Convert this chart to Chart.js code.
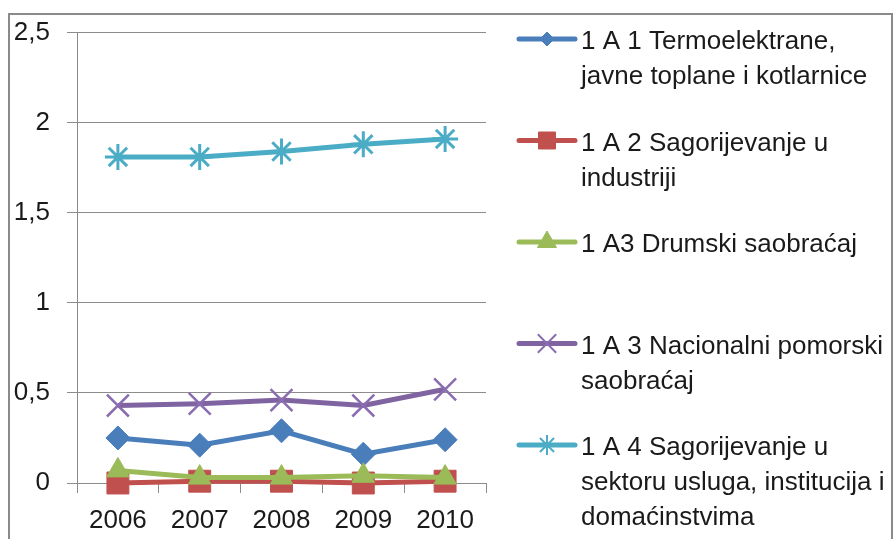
<!DOCTYPE html>
<html>
<head>
  <title>Emisije 2006-2010</title>
  <script src="https://cdn.jsdelivr.net/npm/chart.js"></script>
  <style>
    body { margin: 0; background: #fff; overflow: hidden; }
    .wrap { position: relative; width: 893px; height: 539px; }
    canvas { position: absolute; left: 0; top: 0; }
    .frame { position: absolute; left: 8px; top: 13px; width: 881px; height: 600px; border: 2px solid #8a8a8a; pointer-events: none; }
  </style>
</head>
<body>
  <div class="wrap">
    <canvas id="chart" width="893" height="539"></canvas>
    <div class="frame"></div>
  </div>

  <script>
    // podaci
    const years = ['2006', '2007', '2008', '2009', '2010'];
    const termo = [0.25, 0.21, 0.29, 0.16, 0.24];
    const industrija = [0.00, 0.01, 0.01, 0.00, 0.01];
    const drumski = [0.07, 0.03, 0.03, 0.04, 0.03];
    const pomorski = [0.43, 0.44, 0.46, 0.43, 0.52];
    const usluge = [1.81, 1.81, 1.84, 1.88, 1.91];
    const seriesLabels = [
      ['1 A 1 Termoelektrane,', 'javne toplane i kotlarnice'],
      ['1 A 2 Sagorijevanje u', 'industriji'],
      ['1 A3 Drumski saobraćaj'],
      ['1 A 3 Nacionalni pomorski', 'saobraćaj'],
      ['1 A 4 Sagorijevanje u', 'sektoru usluga, institucija i', 'domaćinstvima']
    ];

    const FONT = 'Liberation Sans';
    const TEXT = '#1a1a1a';
    const GRID = '#8c8c8c';

    // oznake u legendi (manje nego na grafikonu)
    const legendMarks = [
      { style: 'rectRot', radius: 7, border: 1 },
      { style: 'rect', radius: 12, border: 1 },
      { style: 'triangle', radius: 11, border: 1 },
      { style: 'crossRot', radius: 13, border: 2 },
      { style: 'star', radius: 10, border: 2 }
    ];

    const legendPlugin = {
      id: 'sideLegend',
      afterDraw(chart) {
        const ctx = chart.ctx;
        ctx.save();
        chart.data.datasets.forEach((ds, i) => {
          const y = 39 + i * 101.5;
          ctx.strokeStyle = ds.borderColor;
          ctx.lineWidth = 5;
          ctx.lineCap = 'round';
          ctx.beginPath();
          ctx.moveTo(519, y);
          ctx.lineTo(575, y);
          ctx.stroke();
          const m = legendMarks[i];
          ctx.fillStyle = ds.pointBackgroundColor;
          ctx.strokeStyle = ds.pointBorderColor;
          ctx.lineWidth = m.border;
          ctx.lineCap = 'butt';
          Chart.helpers.drawPoint(ctx, { pointStyle: m.style, radius: m.radius, borderWidth: m.border, rotation: 0 }, 547, y);
          ctx.fillStyle = TEXT;
          ctx.font = '26px "' + FONT + '"';
          ctx.textBaseline = 'middle';
          ctx.textAlign = 'left';
          ds.label.forEach((line, k) => {
            ctx.fillText(line, 581, y + 3 + k * 35);
          });
        });
        ctx.restore();
      }
    };

    function makeSet(label, data, color, style, radius, fill, markColor, bw, order) {
      return {
        label: label,
        data: data,
        borderColor: color,
        borderWidth: 5,
        pointStyle: style,
        pointRadius: radius,
        pointHoverRadius: radius,
        pointBackgroundColor: fill,
        pointBorderColor: markColor,
        pointBorderWidth: bw,
        tension: 0,
        clip: false,
        order: order
      };
    }

    new Chart(document.getElementById('chart'), {
      type: 'line',
      data: {
        labels: years,
        datasets: [
          makeSet(seriesLabels[0], termo, '#4a7ebb', 'rectRot', 12, '#4a7ebb', '#4a7ebb', 1, 5),
          makeSet(seriesLabels[1], industrija, '#c0504d', 'rect', 15.5, '#c0504d', '#c0504d', 1, 4),
          makeSet(seriesLabels[2], drumski, '#9bbb59', 'triangle', 13, '#9bbb59', '#9bbb59', 1, 3),
          makeSet(seriesLabels[3], pomorski, '#8064a2', 'crossRot', 15.5, '#8064a2', '#8a6db0', 2.5, 2),
          makeSet(seriesLabels[4], usluge, '#4bacc6', 'star', 13, '#4bacc6', '#4bacc6', 3, 1)
        ]
      },
      options: {
        responsive: false,
        animation: false,
        layout: { padding: { left: 0, top: 32, right: 407, bottom: 0 } },
        plugins: { legend: { display: false }, tooltip: { enabled: false } },
        scales: {
          x: {
            offset: true,
            afterFit(s) { s.height = 56; },
            grid: { offset: true, drawOnChartArea: false, color: GRID, tickLength: 10 },
            border: { color: GRID, width: 1 },
            ticks: { color: TEXT, padding: 12, font: { family: FONT, size: 26 } }
          },
          y: {
            min: 0,
            max: 2.5,
            afterFit(s) { s.width = 77; },
            grid: { color: GRID, tickLength: 10 },
            border: { color: GRID, width: 1 },
            ticks: {
              stepSize: 0.5,
              color: TEXT,
              padding: 17,
              font: { family: FONT, size: 26 },
              callback: v => String(v).replace('.', ',')
            }
          }
        }
      },
      plugins: [legendPlugin]
    });
  </script>
</body>
</html>
